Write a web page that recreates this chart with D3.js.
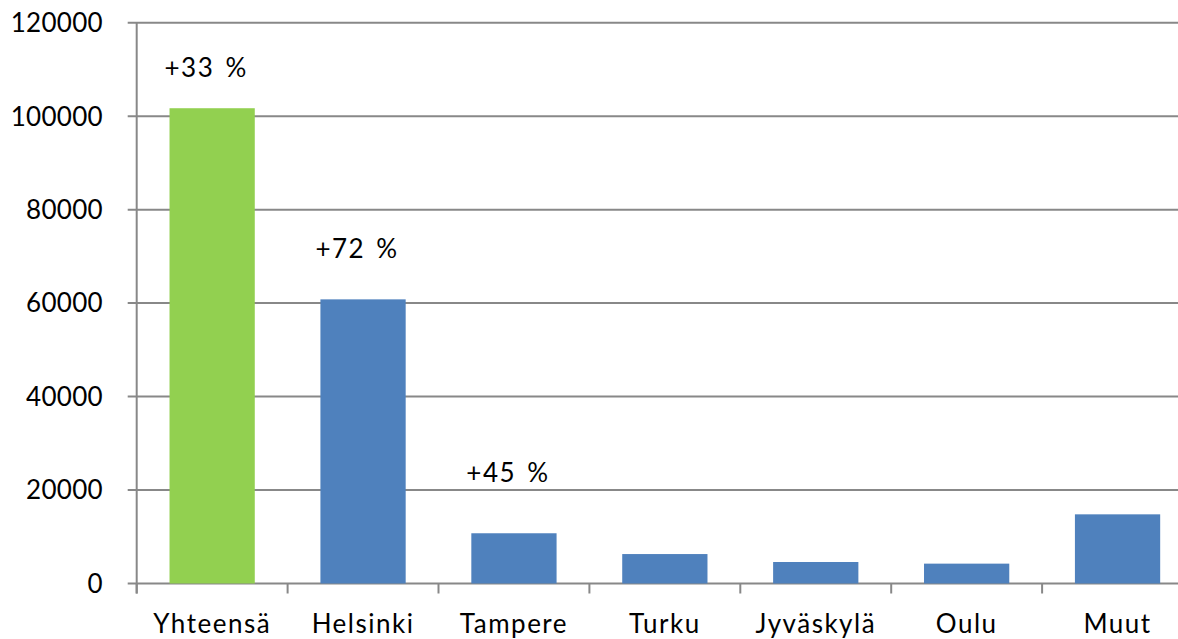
<!DOCTYPE html>
<html><head><meta charset="utf-8">
<script src="https://cdn.jsdelivr.net/npm/d3@7"></script>
<style>
html,body{margin:0;padding:0;background:#fff;overflow:hidden;}
text{font-family:Lato,"Open Sans",sans-serif;fill:#000;}
</style></head>
<body>
<svg id="chart" width="1178" height="639"></svg>
<script>
const categories = ["Yhteensä","Helsinki","Tampere","Turku","Jyväskylä","Oulu","Muut"];
const values = [101700, 60800, 10750, 6300, 4600, 4250, 14800];
const barColors = ["#92D050","#4F81BD","#4F81BD","#4F81BD","#4F81BD","#4F81BD","#4F81BD"];
const yTicks = [0,20000,40000,60000,80000,100000,120000];
const annotationCats = ["Yhteensä","Helsinki","Tampere"];
const annotationTexts = ["+33 %","+72 %","+45 %"];
const annotationValues = [108300, 69600, 21700];

(function(){
const svg = d3.select("#chart");
const pLeft = 136.7, pRight = 1193, pTop = 22.7, pBottom = 583.5;

const x = d3.scaleBand().domain(categories).range([pLeft, pRight]).paddingInner(0.435).paddingOuter(0.2175);
const y = d3.scaleLinear().domain([0,120000]).range([pBottom, pTop]);

svg.append("g").selectAll("line").data(yTicks).join("line")
  .attr("x1", pLeft-9).attr("x2", 1178)
  .attr("y1", d=>y(d)).attr("y2", d=>y(d))
  .attr("stroke","#888").attr("stroke-width",2);

svg.append("line").attr("x1",pLeft).attr("x2",pLeft).attr("y1",pTop).attr("y2",pBottom+10)
  .attr("stroke","#888").attr("stroke-width",2);

const step = (pRight-pLeft)/categories.length;
svg.append("g").selectAll("line").data(d3.range(categories.length+1)).join("line")
  .attr("x1", i=>pLeft+i*step).attr("x2", i=>pLeft+i*step)
  .attr("y1", pBottom).attr("y2", pBottom+10)
  .attr("stroke","#888").attr("stroke-width",2);

svg.append("g").selectAll("text").data(yTicks).join("text")
  .attr("x", 103).attr("y", d=>y(d)).attr("dy","0.36em")
  .attr("text-anchor","end").attr("font-size",26).attr("letter-spacing","0.3px")
  .text(d=>d);

svg.append("g").selectAll("rect").data(categories).join("rect")
  .attr("x", d=>x(d)).attr("width", x.bandwidth())
  .attr("y", (d,i)=>y(values[i])).attr("height", (d,i)=>pBottom-y(values[i]))
  .attr("fill", (d,i)=>barColors[i]);

svg.append("g").selectAll("text").data(categories).join("text")
  .attr("x", d=>x(d)+x.bandwidth()/2).attr("y", 633)
  .attr("text-anchor","middle").attr("font-size",26).attr("letter-spacing","1.5px")
  .text(d=>d);

svg.append("g").selectAll("text").data(annotationTexts).join("text")
  .attr("x", (d,i)=>x(annotationCats[i])+x.bandwidth()/2-6)
  .attr("y", (d,i)=>y(annotationValues[i]))
  .attr("text-anchor","middle").attr("font-size",26)
  .attr("letter-spacing","1.5px").attr("word-spacing","3px")
  .text(d=>d);
})();
</script>
</body></html>
